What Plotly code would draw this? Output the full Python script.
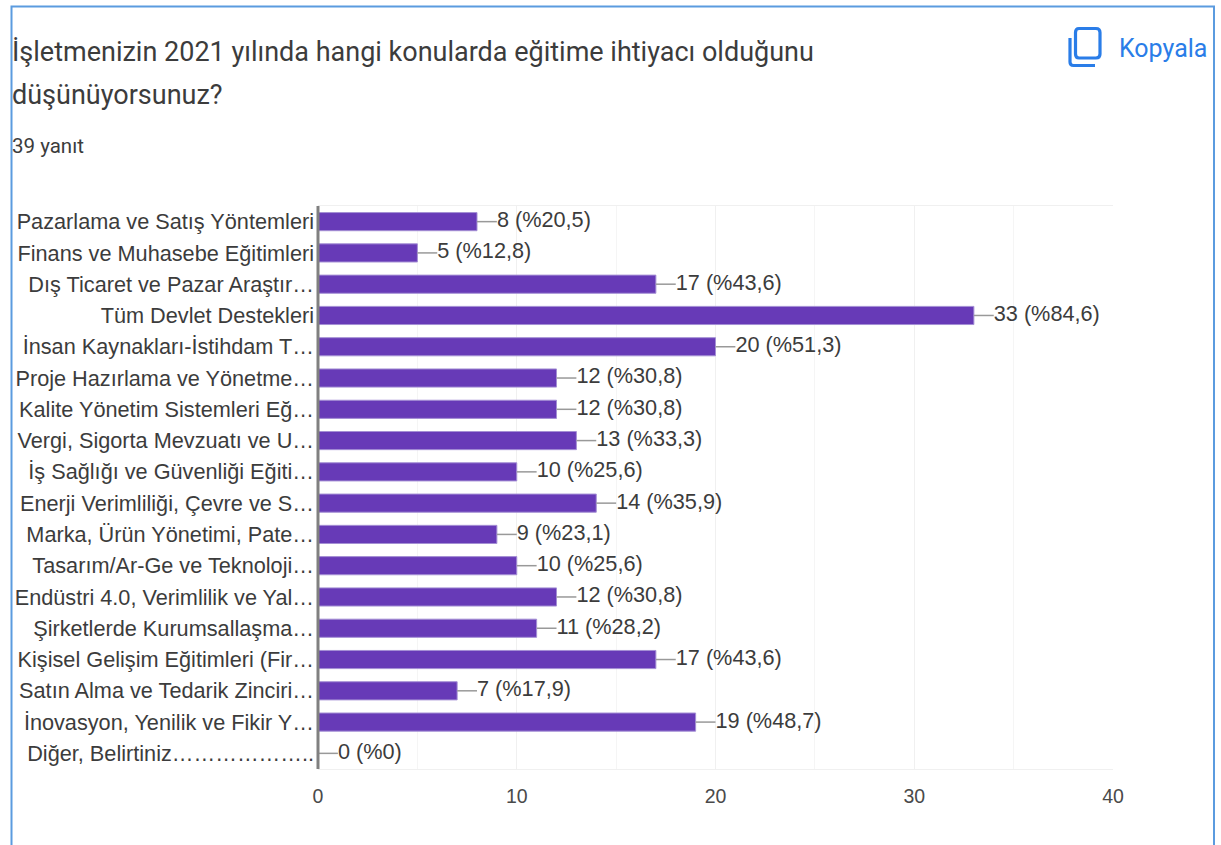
import plotly.graph_objects as go

categories = [
    "Pazarlama ve Satış Yöntemleri", "Finans ve Muhasebe Eğitimleri",
    "Dış Ticaret ve Pazar Araştır…", "Tüm Devlet Destekleri",
    "İnsan Kaynakları-İstihdam T…", "Proje Hazırlama ve Yönetme…",
    "Kalite Yönetim Sistemleri Eğ…", "Vergi, Sigorta Mevzuatı ve U…",
    "İş Sağlığı ve Güvenliği Eğiti…", "Enerji Verimliliği, Çevre ve S…",
    "Marka, Ürün Yönetimi, Pate…", "Tasarım/Ar-Ge ve Teknoloji…",
    "Endüstri 4.0, Verimlilik ve Yal…", "Şirketlerde Kurumsallaşma…",
    "Kişisel Gelişim Eğitimleri (Fir…", "Satın Alma ve Tedarik Zinciri…",
    "İnovasyon, Yenilik ve Fikir Y…", "Diğer, Belirtiniz……………….."
]
counts = [8, 5, 17, 33, 20, 12, 12, 13, 10, 14, 9, 10, 12, 11, 17, 7, 19, 0]
percents = ["20,5", "12,8", "43,6", "84,6", "51,3", "30,8", "30,8", "33,3", "25,6",
            "35,9", "23,1", "25,6", "30,8", "28,2", "43,6", "17,9", "48,7", "0"]
x_ticks = [0, 10, 20, 30, 40]

W, H = 1221, 845
L, R, T, B = 318, 1113, 206, 769
FONT = "Liberation Sans, Arial, sans-serif"
LEADER = 1.0

def px(x):
    return (x - L) / (R - L)

def py(y):
    return (B - y) / (B - T)

labels = [f"{c} (%{p})" for c, p in zip(counts, percents)]

fig = go.Figure()
fig.add_trace(go.Bar(
    x=counts, y=categories, orientation="h", width=0.58,
    marker=dict(color="#673ab7", line=dict(width=1, color="#a48fd4")),
    error_x=dict(type="constant", value=LEADER, valueminus=0, symmetric=False,
                 color="#999999", thickness=1.5, width=0),
    hoverinfo="skip", showlegend=False,
))
fig.add_trace(go.Scatter(
    x=[c + LEADER for c in counts], y=categories, mode="text",
    text=labels, textposition="middle right",
    textfont=dict(family=FONT, size=21.7, color="#3c3c3c"),
    hoverinfo="skip", showlegend=False, cliponaxis=False,
))

BLUE = "#2a7de8"

front = (f"M {px(1079)} {py(28.5)} L {px(1096)} {py(28.5)} Q {px(1100)} {py(28.5)} {px(1100)} {py(32.5)} "
         f"L {px(1100)} {py(54)} Q {px(1100)} {py(58)} {px(1096)} {py(58)} "
         f"L {px(1079)} {py(58)} Q {px(1075.5)} {py(58)} {px(1075.5)} {py(54)} "
         f"L {px(1075.5)} {py(32.5)} Q {px(1075.5)} {py(28.5)} {px(1079)} {py(28.5)} Z")
back = (f"M {px(1070)} {py(38)} L {px(1070)} {py(62)} Q {px(1070)} {py(65.5)} {px(1073.5)} {py(65.5)} "
        f"L {px(1095)} {py(65.5)}")

shapes = [
    dict(type="path", xref="paper", yref="paper",
         path=f"M {px(11.5)} {py(845)} L {px(11.5)} {py(6.5)} L {px(1214)} {py(6.5)} L {px(1214)} {py(845)}",
         line=dict(color="#5b9bdf", width=2), layer="below"),
    dict(type="path", xref="paper", yref="paper", path=front, line=dict(color=BLUE, width=3.2)),
    dict(type="path", xref="paper", yref="paper", path=back, line=dict(color=BLUE, width=3.2)),
    dict(type="line", xref="paper", yref="paper", x0=0, x1=0, y0=0, y1=1,
         line=dict(color="#808080", width=3), layer="above"),
]

annotations = [
    dict(text="İşletmenizin 2021 yılında hangi konularda eğitime ihtiyacı olduğunu",
         x=px(9.5), y=py(52), font=dict(family="Roboto", size=27, color="#3c3c3c")),
    dict(text="düşünüyorsunuz?", x=px(9.5), y=py(95), font=dict(family="Roboto", size=27, color="#3c3c3c")),
    dict(text="39 yanıt", x=px(9.5), y=py(146), font=dict(family="Roboto", size=20.5, color="#3c3c3c")),
    dict(text="Kopyala", x=px(1117), y=py(48), font=dict(family="Roboto", size=25, color=BLUE)),
]
for a in annotations:
    a.update(xref="paper", yref="paper", xanchor="left", yanchor="middle",
             showarrow=False, align="left")

fig.update_layout(
    width=W, height=H, autosize=False,
    margin=dict(l=L, r=W - R, t=T, b=H - B, pad=0),
    paper_bgcolor="white", plot_bgcolor="white",
    shapes=shapes, annotations=annotations,
    xaxis=dict(range=[0, 40], tickvals=x_ticks, ticks="", showline=True, mirror=True,
               linecolor="#f0f0f0", linewidth=1, zeroline=False,
               showgrid=True, gridcolor="#f0f0f0", gridwidth=1,
               minor=dict(dtick=5, showgrid=True, gridcolor="#f5f5f5", gridwidth=1),
               tickfont=dict(family=FONT, size=19.5, color="#4a4a4a"), ticklabelstandoff=10),
    yaxis=dict(categoryorder="array", categoryarray=categories, range=[17.5, -0.5],
               ticks="", showline=False, showgrid=False, zeroline=False,
               tickfont=dict(family=FONT, size=21.7, color="#3c3c3c"), ticklabelstandoff=3),
)

fig.write_html("out.html", post_script="document.body.style.margin='0';document.body.style.overflow='hidden';",
               config=dict(displayModeBar=False))
